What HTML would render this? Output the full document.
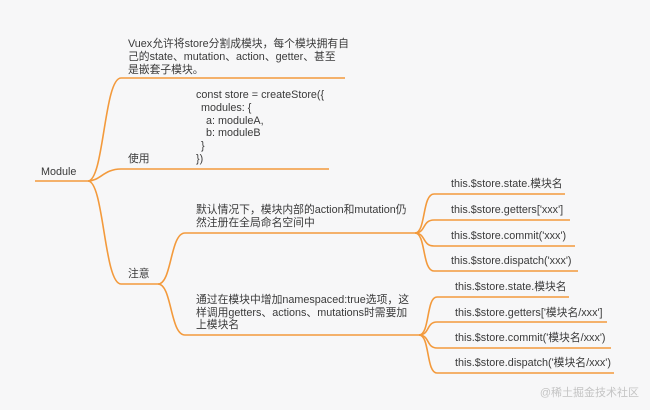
<!DOCTYPE html>
<html><head><meta charset="utf-8"><style>
html,body{margin:0;padding:0;background:#f7f7f8;}
svg{display:block}
text{font-family:"Liberation Sans","Noto Sans CJK SC",sans-serif;font-size:10.8px;fill:#3a3a3a;dominant-baseline:middle}
path{fill:none;stroke:#f39a3c;stroke-width:1.6}
</style></head><body>
<svg width="650" height="410" viewBox="0 0 650 410">
<path d="M35 181 H88"/>
<path d="M88 181 C104 181 104 78 121 78 H345"/>
<path d="M88 181 C100 181 104 169 121 169 H329"/>
<path d="M88 181 C104 181 104 284 121 284 H158"/>
<path d="M158 284 C172 284 170 233 185 233 H415"/>
<path d="M158 284 C172 284 170 335 185 335 H419"/>
<path d="M415 233 C426 233 422 194 434 194 H565"/>
<path d="M415 233 C426 233 422 220 434 220 H570"/>
<path d="M415 233 C426 233 422 246 434 246 H575"/>
<path d="M415 233 C426 233 422 271 434 271 H578"/>
<path d="M419 335 C430 335 426 297 437 297 H569"/>
<path d="M419 335 C430 335 426 322 437 322 H607"/>
<path d="M419 335 C430 335 426 348 437 348 H611"/>
<path d="M419 335 C430 335 426 373 437 373 H614"/>
<text x="41" y="172">Module</text>
<text x="128" y="44">Vuex允许将store分割成模块，每个模块拥有自</text>
<text x="128" y="57">己的state、mutation、action、getter、甚至</text>
<text x="128" y="70">是嵌套子模块。</text>
<text x="196" y="95">const store = createStore({</text>
<text x="201" y="108">modules: {</text>
<text x="206" y="121">a: moduleA,</text>
<text x="206" y="133">b: moduleB</text>
<text x="201" y="146">}</text>
<text x="196" y="159">})</text>
<text x="128" y="159">使用</text>
<text x="128" y="274">注意</text>
<text x="196" y="210">默认情况下，模块内部的action和mutation仍</text>
<text x="196" y="223">然注册在全局命名空间中</text>
<text x="196" y="300">通过在模块中增加namespaced:true选项，这</text>
<text x="196" y="313">样调用getters、actions、mutations时需要加</text>
<text x="196" y="325">上模块名</text>
<text x="451" y="184">this.$store.state.模块名</text>
<text x="451" y="210">this.$store.getters['xxx']</text>
<text x="451" y="236">this.$store.commit('xxx')</text>
<text x="451" y="261">this.$store.dispatch('xxx')</text>
<text x="455" y="287">this.$store.state.模块名</text>
<text x="455" y="313">this.$store.getters['模块名/xxx']</text>
<text x="455" y="338">this.$store.commit('模块名/xxx')</text>
<text x="455" y="363">this.$store.dispatch('模块名/xxx')</text>
<text x="639" y="393" text-anchor="end" style="fill:#c4c4c4;font-size:11px">@稀土掘金技术社区</text>
</svg>
</body></html>
